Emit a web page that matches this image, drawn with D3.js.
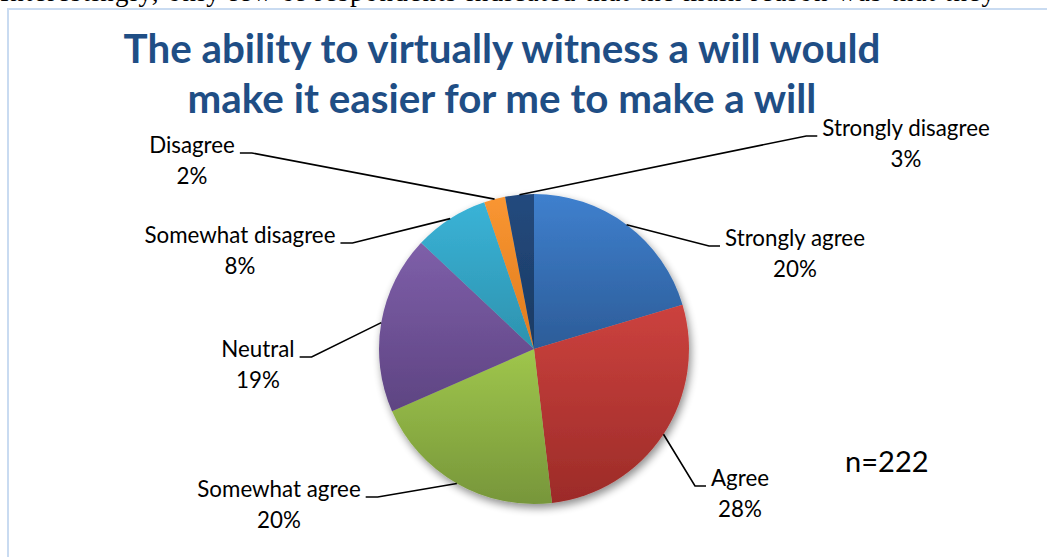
<!DOCTYPE html>
<html><head><meta charset="utf-8">
<script src="https://cdn.jsdelivr.net/npm/d3@7"></script>
<style>body{margin:0;background:#fff;overflow:hidden} svg{display:block}</style>
</head><body><svg id="c" width="1047" height="557"></svg>
<script>
// ---- data ----
const categories = ["Strongly agree","Agree","Somewhat agree","Neutral","Somewhat disagree","Disagree","Strongly disagree"];
const values = [20.4, 27.8, 20.3, 18.6, 7.8, 2.2, 3.0];
const titleLines = ["The ability to virtually witness a will would","make it easier for me to make a will"];
const noteText = "n=222";
const bodyText = "Interestingly, only few of respondents indicated that the main reason was that they";

// ---- styles / layout ----
const topColors = ["#3f80ce","#cc423e","#9fc64c","#7e5fa9","#3ab3d7","#f99632","#234a7e"];
const botColors = ["#2c5c98","#9c2b28","#77963a","#5e4482","#2d92ae","#df7b1e","#1b3a62"];
const cx = 534, cy = 349, R = 155;
// label anchor: centre x of text, baseline of first line, side of pie
const labelPos = [
  {x:795, y:246, side:"r"},
  {x:740, y:486, side:"r"},
  {x:279, y:497, side:"l"},
  {x:258, y:357, side:"l"},
  {x:240, y:243, side:"l"},
  {x:192, y:153, side:"l"},
  {x:906, y:136, side:"r"}
];
const labelFont = "Lato, 'Open Sans', sans-serif";

const svg = d3.select("#c");
const defs = svg.append("defs");

// body text line cut off at top
svg.append("text").attr("x", 0).attr("y", 0.5)
  .attr("font-family", "'Liberation Serif', 'Times New Roman', serif")
  .attr("font-size", 27).attr("fill", "#000")
  .attr("textLength", 995).attr("lengthAdjust", "spacing")
  .text(bodyText);

// frame
svg.append("rect").attr("x", 8).attr("y", 9).attr("width", 1060).attr("height", 570)
  .attr("fill", "#fff").attr("stroke", "#c9dbf1").attr("stroke-width", 2);

// title
const title = svg.append("g");
const tl = title.selectAll("text").data(titleLines).join("text")
  .attr("x", 502).attr("y", (d,i) => 63 + i*50)
  .attr("text-anchor", "middle")
  .attr("font-family", "Lato, 'Open Sans', sans-serif")
  .attr("font-weight", "bold").attr("font-size", 36)
  .attr("fill", "#1f4e85").text(d => d);
const w0 = tl.nodes()[0].getComputedTextLength();
tl.attr("font-size", 36 * 757 / w0);

// shadow filter
const f = defs.append("filter").attr("id","sh").attr("x","-20%").attr("y","-20%").attr("width","140%").attr("height","140%");
f.append("feGaussianBlur").attr("in","SourceAlpha").attr("stdDeviation",4);
f.append("feOffset").attr("dx",2).attr("dy",4).attr("result","o");
f.append("feComponentTransfer").append("feFuncA").attr("type","linear").attr("slope",0.45);
const fm = f.append("feMerge"); fm.append("feMergeNode"); fm.append("feMergeNode").attr("in","SourceGraphic");

// gradients
categories.forEach((c,i) => {
  const g = defs.append("linearGradient").attr("id","g"+i)
    .attr("gradientUnits","objectBoundingBox").attr("x1",0).attr("y1",0).attr("x2",0).attr("y2",1);
  g.append("stop").attr("offset","0%").attr("stop-color", topColors[i]);
  g.append("stop").attr("offset","100%").attr("stop-color", botColors[i]);
});

const pie = d3.pie().sort(null).value(d => d);
const arcs = pie(values);
const arc = d3.arc().innerRadius(0).outerRadius(R);
const edge = d3.arc().innerRadius(R).outerRadius(R);

const pg = svg.append("g").attr("transform", `translate(${cx},${cy})`).attr("filter","url(#sh)");
pg.selectAll("path").data(arcs).join("path")
  .attr("d", arc).attr("fill", (d,i) => `url(#g${i})`);

// labels
const fmt = d3.format(".0f");
const lg = svg.append("g").attr("font-family", labelFont).attr("fill", "#000");
const probe = lg.append("text").attr("font-size", 20).text(categories[4]);
const lfs = 20 * 191 / probe.node().getComputedTextLength();
probe.remove();

arcs.forEach((a, i) => {
  const p = labelPos[i];
  const t = lg.append("text").attr("x", p.x).attr("y", p.y)
    .attr("text-anchor", "middle").attr("font-size", lfs);
  t.append("tspan").attr("x", p.x).text(categories[i]);
  t.append("tspan").attr("x", p.x).attr("dy", lfs * 1.38).text(fmt(a.data) + "%");
  const w = t.select("tspan").node().getComputedTextLength();
  const [ex, ey] = edge.centroid(a);
  let end, elbow;
  if (p.side === "r") { end = p.x - w/2 - 5; elbow = end - 11; }
  else { end = p.x + w/2 + 5; elbow = end + 12; }
  svg.append("polyline")
    .attr("points", `${cx+ex},${cy+ey} ${elbow},${p.y} ${end},${p.y}`)
    .attr("fill","none").attr("stroke","#000").attr("stroke-width",1.6);
});

// n label
svg.append("text").attr("x", 845).attr("y", 472)
  .attr("font-family", labelFont).attr("font-size", lfs * 1.3)
  .attr("fill", "#000").text(noteText);
</script>
</body></html>
